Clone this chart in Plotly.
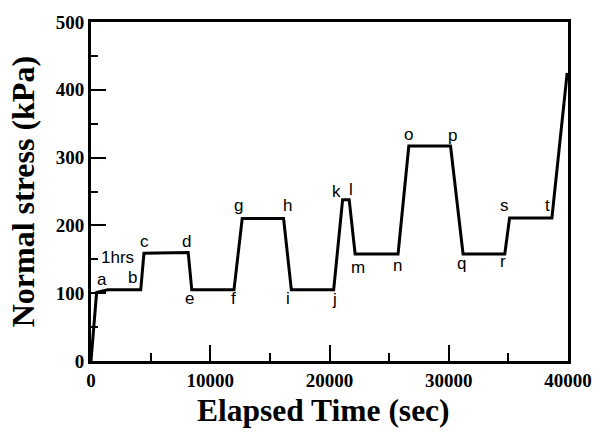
import plotly.graph_objects as go

# ---- data ----
elapsed_time = [0, 470, 1400, 4170, 4440, 8150, 8450, 11990, 12680, 16150, 16800,
                20350, 21100, 21650, 22150, 25750, 26650, 30150, 31200, 34700,
                35100, 38650, 39930]
normal_stress = [0, 101, 105, 105, 159, 160, 105, 105, 210, 210, 105,
                 105, 238, 238, 158, 158, 317, 317, 158, 158,
                 211, 211, 425]

# stage labels: letter, index of the curve vertex it marks
stage_letters = ["a", "b", "c", "d", "e", "f", "g", "h", "i", "j",
                 "k", "l", "m", "n", "o", "p", "q", "r", "s", "t"]
stage_vertex = [1, 3, 4, 5, 6, 7, 8, 9, 10, 11,
                12, 13, 14, 15, 16, 17, 18, 19, 20, 21]
# pixel offsets of each letter from its vertex (x right, y up)
stage_shift = [(5, 13), (-8, 12), (1, 12), (-2, 11), (-2, -9), (0, -9),
               (-4, 13), (4, 13), (-3, -9), (1, -10),
               (-6, 8), (2, 10), (3, -14), (-1, -12), (0, 12), (2, 11),
               (-2, -10), (-2, -8), (-5, 12), (-4, 12)]

x_ticks = [0, 10000, 20000, 30000, 40000]
y_ticks = [0, 100, 200, 300, 400, 500]

fig = go.Figure()
fig.add_trace(go.Scatter(x=elapsed_time, y=normal_stress, mode="lines",
                         line=dict(color="black", width=3), showlegend=False,
                         hoverinfo="skip"))

annotations = []
for letter, vi, (dx, dy) in zip(stage_letters, stage_vertex, stage_shift):
    annotations.append(dict(x=elapsed_time[vi], y=normal_stress[vi], xref="x", yref="y",
                            text=letter, showarrow=False, xshift=dx, yshift=dy,
                            font=dict(family="Liberation Sans, Arial", size=17, color="black")))
annotations.append(dict(x=elapsed_time[1], y=normal_stress[1], xref="x", yref="y",
                        text="1hrs", showarrow=False, xshift=21, yshift=35,
                        font=dict(family="Liberation Sans, Arial", size=17, color="black")))
annotations.append(dict(x=0.487, y=-0.145, xref="paper", yref="paper",
                        text="Elapsed Time (sec)", showarrow=False,
                        xanchor="center", yanchor="middle",
                        font=dict(family="Liberation Serif, Times New Roman", size=31.5,
                                  color="black", weight="bold")))
annotations.append(dict(x=-0.143, y=0.5, xref="paper", yref="paper",
                        text="Normal stress (kPa)", showarrow=False, textangle=-90,
                        xanchor="center", yanchor="middle",
                        font=dict(family="Liberation Serif, Times New Roman", size=32,
                                  color="black", weight="bold")))

tickfont = dict(family="Liberation Serif, Times New Roman", size=19, color="black", weight="bold")

fig.update_layout(
    width=604, height=432,
    margin=dict(l=91, r=27, t=15, b=71),
    paper_bgcolor="white", plot_bgcolor="white",
    annotations=annotations,
    xaxis=dict(range=[0, 40000], tickvals=x_ticks, ticktext=[str(v) for v in x_ticks],
               ticks="inside", ticklen=16, tickwidth=2, tickcolor="black",
               minor=dict(ticks="inside", ticklen=8, tickwidth=2, tickcolor="black",
                          dtick=5000, tick0=0, showgrid=False),
               showline=True, linecolor="black", linewidth=3, mirror=True,
               showgrid=False, zeroline=False, tickfont=tickfont),
    yaxis=dict(range=[0, 500], tickvals=y_ticks, ticktext=[str(v) for v in y_ticks],
               ticks="inside", ticklen=15, tickwidth=2, tickcolor="black",
               minor=dict(ticks="inside", ticklen=7, tickwidth=2, tickcolor="black",
                          dtick=50, tick0=0, showgrid=False),
               showline=True, linecolor="black", linewidth=3, mirror=True,
               showgrid=False, zeroline=False, tickfont=tickfont),
)

fig.write_html("out.html")
